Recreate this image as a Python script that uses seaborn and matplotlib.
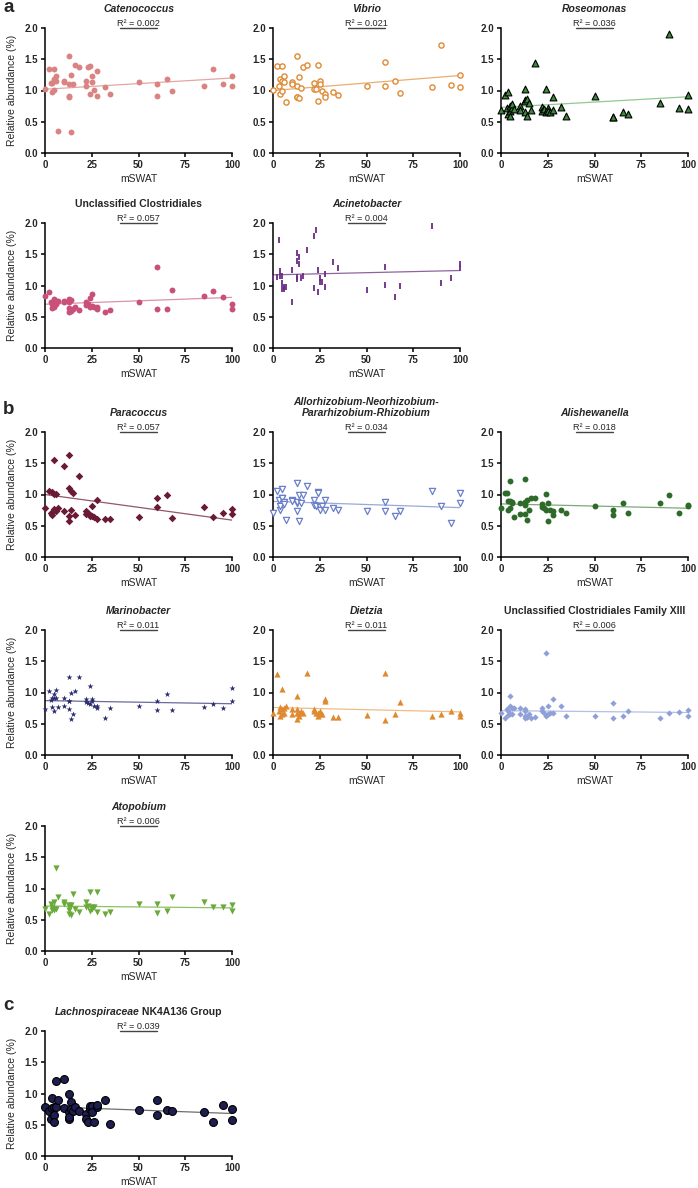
import numpy as np
import matplotlib.pyplot as plt
import seaborn as sns

# ---------------- data ----------------
mswat = [0, 2, 3, 4, 4, 5, 5, 5, 6, 6, 7, 10, 10, 13, 13, 13, 13, 14, 14, 15, 16, 18,
         22, 22, 23, 24, 24, 25, 25, 26, 28, 28, 32, 35, 50, 60, 60, 65, 68, 85, 90, 95, 100, 100]

catenococcus = [1.03, 1.35, 1.12, 0.98, 1.12, 1.35, 1.18, 1.01, 1.24, 1.16, 0.35, 1.16, 1.14, 1.55,
                1.11, 0.92, 0.90, 1.25, 0.34, 1.11, 1.41, 1.37, 1.15, 1.07, 1.38, 1.40, 0.94, 1.23,
                1.14, 1.01, 1.31, 0.91, 1.05, 0.95, 1.14, 1.11, 0.91, 1.19, 0.99, 1.07, 1.35, 1.11,
                1.24, 1.08]
vibrio = [1.01, 1.39, 1.08, 0.95, 1.19, 1.39, 1.15, 1.00, 1.24, 1.13, 0.82, 1.14, 1.10, 1.56,
          1.08, 0.90, 0.89, 1.22, 0.88, 1.04, 1.38, 1.41, 1.12, 1.03, 1.03, 1.41, 0.84, 1.16,
          1.11, 0.99, 0.94, 0.90, 0.98, 0.93, 1.07, 1.46, 1.07, 1.16, 0.96, 1.05, 1.73, 1.09,
          1.25, 1.06]
roseomonas = [0.69, 0.93, 0.72, 0.63, 0.97, 0.67, 0.75, 0.60, 0.72, 0.78, 0.70, 0.75, 0.69, 1.02,
              0.85, 0.66, 0.83, 0.87, 0.60, 0.80, 0.69, 1.44, 0.74, 0.67, 0.70, 1.02, 0.66, 0.72,
              0.68, 0.65, 0.90, 0.69, 0.74, 0.60, 0.91, 0.58, 0.58, 0.66, 0.63, 0.80, 1.90, 0.72,
              0.93, 0.70]
unclass_clostridiales = [0.83, 0.90, 0.73, 0.64, 0.70, 0.78, 0.67, 0.65, 0.75, 0.70, 0.75, 0.74,
                         0.76, 0.78, 0.64, 0.58, 0.73, 0.77, 0.60, 0.62, 0.65, 0.61, 0.74, 0.69,
                         0.70, 0.80, 0.66, 0.87, 0.67, 0.65, 0.65, 0.62, 0.58, 0.61, 0.74, 1.30,
                         0.63, 0.62, 0.93, 0.83, 0.91, 0.81, 0.70, 0.62]
acinetobacter = [1.12, 1.13, 1.73, 1.15, 1.24, 1.16, 1.04, 0.95, 0.97, 0.94, 0.97, 1.25, 0.73, 1.52,
                 1.40, 1.13, 1.10, 1.46, 1.34, 1.12, 1.16, 1.57, 1.80, 0.96, 1.89, 1.25, 0.89, 1.12,
                 1.06, 1.06, 1.19, 0.97, 1.37, 1.28, 0.93, 1.29, 1.01, 0.82, 0.99, 1.96, 1.04, 1.12,
                 1.34, 1.28]
paracoccus = [0.79, 1.06, 0.70, 1.04, 0.68, 1.55, 0.77, 1.01, 0.73, 1.01, 0.78, 1.45, 0.73, 1.63,
              1.10, 0.66, 0.58, 0.75, 1.06, 1.02, 0.68, 1.29, 0.73, 0.69, 0.71, 0.66, 0.68, 0.82,
              0.66, 0.64, 0.61, 0.91, 0.61, 0.61, 0.64, 0.94, 0.80, 1.00, 0.62, 0.80, 0.64, 0.70,
              0.77, 0.69]
allorhizobium = [0.70, 1.06, 0.91, 0.76, 0.82, 1.09, 0.94, 0.94, 0.88, 0.85, 0.60, 0.91, 0.90, 1.19,
                 0.87, 0.73, 0.88, 1.00, 0.57, 0.87, 0.99, 1.14, 0.91, 0.84, 0.81, 1.04, 1.02, 0.80,
                 0.76, 0.82, 0.92, 0.76, 0.78, 0.75, 0.73, 0.88, 0.73, 0.66, 0.73, 1.06, 0.81, 0.55,
                 1.03, 0.86]
alishewanella = [0.78, 1.02, 1.03, 0.90, 0.75, 1.21, 0.78, 0.90, 0.88, 0.87, 0.64, 0.87, 0.69, 1.25,
                 0.83, 0.69, 0.88, 0.92, 0.60, 0.76, 0.94, 0.95, 0.85, 0.80, 0.78, 1.01, 0.76, 0.87,
                 0.58, 0.76, 0.73, 0.67, 0.75, 0.71, 0.82, 0.76, 0.68, 0.87, 0.71, 0.87, 0.99, 0.71,
                 0.83, 0.81]
marinobacter = [0.74, 1.03, 0.88, 0.77, 0.92, 0.98, 0.70, 0.92, 1.04, 0.92, 0.77, 0.92, 0.79, 1.25,
                0.87, 0.73, 0.87, 1.00, 0.57, 0.65, 1.02, 1.25, 0.90, 0.85, 0.83, 1.10, 0.82, 0.90,
                0.86, 0.79, 0.79, 0.75, 0.60, 0.75, 0.78, 0.86, 0.72, 0.97, 0.72, 0.77, 0.81, 0.75,
                1.08, 0.86]
dietzia = [0.67, 1.30, 0.71, 0.63, 0.77, 1.05, 0.74, 0.66, 0.76, 0.67, 0.78, 0.74, 0.66, 0.68,
           0.95, 0.58, 0.74, 0.67, 0.62, 0.70, 0.67, 1.31, 0.74, 0.70, 0.67, 0.63, 0.68, 0.65,
           0.70, 0.66, 0.90, 0.87, 0.61, 0.61, 0.64, 1.31, 0.56, 0.65, 0.85, 0.62, 0.66, 0.70,
           0.68, 0.63]
clostridiales_xiii = [0.67, 0.60, 0.74, 0.64, 0.70, 0.94, 0.79, 0.66, 0.76, 0.65, 0.75, 0.76, 0.65,
                      0.73, 0.63, 0.59, 0.71, 0.61, 0.61, 0.66, 0.60, 0.61, 0.75, 0.70, 0.68, 1.63,
                      0.63, 0.79, 0.66, 0.67, 0.89, 0.67, 0.79, 0.62, 0.63, 0.83, 0.59, 0.63, 0.71,
                      0.59, 0.67, 0.69, 0.72, 0.63]
atopobium = [0.68, 0.60, 0.75, 0.65, 0.70, 0.79, 0.65, 0.68, 1.33, 0.68, 0.86, 0.78, 0.75, 0.74,
             0.65, 0.60, 0.72, 0.74, 0.58, 0.92, 0.67, 0.62, 0.78, 0.71, 0.72, 0.95, 0.64, 0.70,
             0.67, 0.70, 0.95, 0.63, 0.59, 0.63, 0.75, 0.76, 0.61, 0.64, 0.86, 0.79, 0.70, 0.70,
             0.73, 0.64]
lachnospiraceae = [0.79, 0.72, 0.60, 0.93, 0.77, 0.65, 0.55, 0.78, 1.20, 0.78, 0.90, 1.23, 0.77,
                   1.00, 0.70, 0.60, 0.63, 0.86, 0.75, 0.72, 0.78, 0.72, 0.68, 0.60, 0.55, 0.75,
                   0.80, 0.80, 0.70, 0.54, 0.78, 0.82, 0.90, 0.51, 0.74, 0.90, 0.65, 0.74, 0.72,
                   0.71, 0.55, 0.81, 0.75, 0.58]

r2_values = ["0.002", "0.021", "0.036", "0.057", "0.004", "0.057", "0.034",
             "0.018", "0.011", "0.011", "0.006", "0.006", "0.039"]
# fitted line as drawn in the figure: value at mSWAT = 0 and at mSWAT = 100
fit_start = [1.02, 1.00, 0.73, 0.70, 1.17, 1.00, 0.89, 0.85, 0.87, 0.76, 0.71, 0.72, 0.79]
fit_end = [1.20, 1.24, 0.90, 0.81, 1.24, 0.59, 0.79, 0.78, 0.82, 0.69, 0.68, 0.69, 0.68]

xticks = [0, 25, 50, 75, 100]
yticks = [0.0, 0.5, 1.0, 1.5, 2.0]

# (title, italic, values, col, row, marker, size, face, edge, edge lw, line colour)
panels = [
    ("Catenococcus", True, catenococcus, 0, 0, "o", 18, "#D98482", "#D98482", 0, "#E4A6A4"),
    ("Vibrio", True, vibrio, 1, 0, "o", 14, "white", "#E08A35", 1.0, "#E9AE70"),
    ("Roseomonas", True, roseomonas, 2, 0, "^", 24, "#3D8A3D", "black", 0.8, "#93C993"),
    ("Unclassified Clostridiales", False, unclass_clostridiales, 0, 1, "o", 18, "#C8507A", "#C8507A", 0, "#D992AC"),
    ("Acinetobacter", True, acinetobacter, 1, 1, "|", 18, "#6B2C83", "#6B2C83", 1.3, "#8E639F"),
    ("Paracoccus", True, paracoccus, 0, 2, "D", 15, "#6B1A35", "#6B1A35", 0, "#93566A"),
    ("Allorhizobium-Neorhizobium-\nPararhizobium-Rhizobium", True, allorhizobium, 1, 2, "v", 20,
     "white", "#6A80C8", 0.9, "#9AA9D9"),
    ("Alishewanella", True, alishewanella, 2, 2, "o", 18, "#2E6B2A", "#2E6B2A", 0, "#7FA879"),
    ("Marinobacter", True, marinobacter, 0, 3, "*", 20, "#2A2A6E", "#2A2A6E", 0, "#6A6A9C"),
    ("Dietzia", True, dietzia, 1, 3, "^", 20, "#E08A30", "#E08A30", 0, "#F0BC86"),
    ("Unclassified Clostridiales Family XIII", False, clostridiales_xiii, 2, 3, "D", 10,
     "#8FA0D8", "#8FA0D8", 0, "#B3BFE6"),
    ("Atopobium", True, atopobium, 0, 4, "v", 20, "#6AAA3A", "#6AAA3A", 0, "#8CC266"),
    ("Lachnospiraceae", True, lachnospiraceae, 0, 5, "o", 32, "#1E1E50", "black", 0.8, "#6E6E6E"),
]

# ---------------- layout ----------------
sns.set_style("ticks")
plt.rcParams['font.family'] = ['Liberation Sans', 'DejaVu Sans']

W, H = 698, 1188
fig = plt.figure(figsize=(W / 100, H / 100), dpi=100)
col_left = [45, 273, 501]
row_top = [28, 223, 432, 630, 826, 1031]
AX_W, AX_H = 187, 125

for i, (title, italic, vals, col, row, mk, s, face, edge, elw, lcol) in enumerate(panels):
    ax = fig.add_axes([col_left[col] / W, 1 - (row_top[row] + AX_H) / H, AX_W / W, AX_H / H])

    sns.lineplot(x=[min(mswat), max(mswat)], y=[fit_start[i], fit_end[i]], ax=ax,
                 color=lcol, lw=0.9)
    sns.scatterplot(x=mswat, y=vals, ax=ax, marker=mk, s=s, color=face, edgecolor=edge,
                    linewidth=elw, clip_on=False, zorder=3, legend=False)

    ax.set_xlim(0, 100)
    ax.set_ylim(0, 2)
    ax.set_xticks(xticks, labels=[str(t) for t in xticks], fontweight='bold', fontsize=7)
    ax.set_yticks(yticks, labels=[f"{t:.1f}" for t in yticks], fontweight='bold', fontsize=7)
    sns.despine(ax=ax)
    for sp in ("left", "bottom"):
        ax.spines[sp].set_linewidth(1.1)
        ax.spines[sp].set_color("black")
    ax.tick_params(length=3, width=1.1, color="black", pad=2)

    ax.set_xlabel("mSWAT", fontsize=7.5, labelpad=3)
    if col == 0:
        ax.set_ylabel("Relative abundance (%)", fontsize=7.5, labelpad=5)
    else:
        ax.set_ylabel("")

    # title
    if title == "Lachnospiraceae":
        t1 = ax.text(0.505, 1.115, title, transform=ax.transAxes, ha='right', va='bottom',
                     fontsize=7.5, fontweight='bold', fontstyle='italic')
        ax.annotate(" NK4A136 Group", xy=(1, 0), xycoords=t1, ha='left', va='bottom',
                    fontsize=7.5, fontweight='bold')
    else:
        ax.text(0.5, 1.115, title, transform=ax.transAxes, ha='center', va='bottom',
                fontsize=7.5, fontweight='bold', fontstyle='italic' if italic else 'normal',
                linespacing=1.05)

    # R² annotation with underline
    ax.text(50, 2.035, f"R² = {r2_values[i]}", ha='center', va='baseline', fontsize=6.6,
            clip_on=False)
    ax.plot([40, 60], [2.0, 2.0], color="#444444", lw=1.0, clip_on=False)

# panel letters
for letter, ypix in [("a", 8), ("b", 409), ("c", 1006)]:
    fig.text(3 / W, 1 - ypix / H, letter, fontsize=13.5, fontweight='bold', ha='left', va='center')

fig.savefig("out.png", dpi=100)
